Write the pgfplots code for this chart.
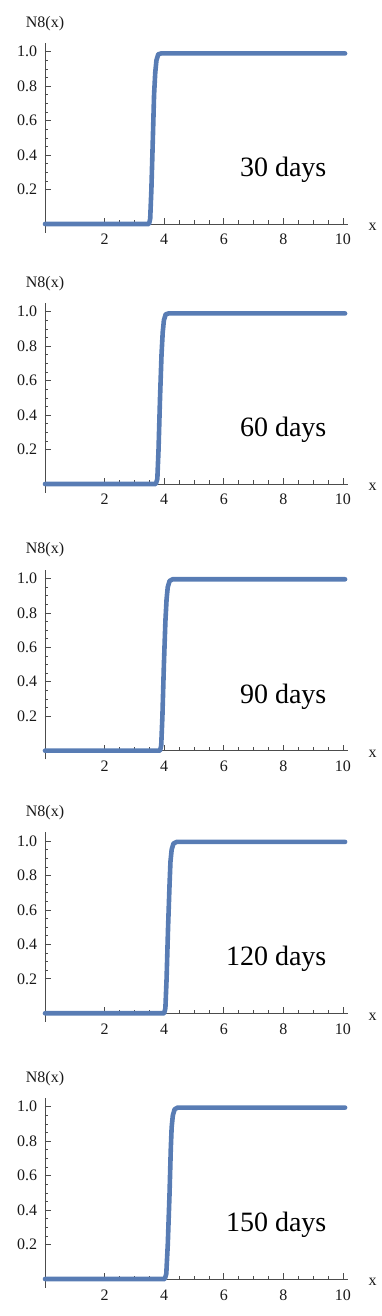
\documentclass[border=0pt]{standalone}
\usepackage{fontspec}
\setmainfont{Liberation Serif}
\usepackage{pgfplots}
\pgfplotsset{compat=1.18}

\definecolor{mmablue}{RGB}{88,124,180}

% one Mathematica-style panel: axes cross at the origin, ticks point inward
\pgfplotsset{
  npanel/.style={
    scale only axis,
    width=304.85pt, height=189.5pt,
    anchor=south west,
    xmin=-0.06, xmax=10.17,
    ymin=-0.05, ymax=1.05,
    axis lines=middle,
    axis line style={black!70, line width=0.8pt, -},
    tick align=inside,
    xtick={2,4,6,8,10},
    ytick={0.2,0.4,0.6,0.8,1.0},
    minor tick num=3,
    major tick length=6pt,
    minor tick length=3.5pt,
    major tick style={black!70, line width=0.7pt},
    minor tick style={black!70, line width=0.6pt},
    tick label style={font=\fontsize{16}{19}\selectfont, text=black!90},
    /pgf/number format/assume math mode=true,
    yticklabel style={anchor=east, inner sep=0pt, xshift=-7.7pt,
      /pgf/number format/fixed, /pgf/number format/fixed zerofill,
      /pgf/number format/precision=1},
    xticklabel style={anchor=base, inner sep=0pt, yshift=-21pt},
    clip=false,
  },
  curve/.style={color=mmablue, mark=none, line width=4.6pt,
    line join=round, line cap=round},
}

\newcommand{\panellabels}[1]{%
  \node[anchor=base, font=\fontsize{16}{19}\selectfont, text=black!90]
    at (axis cs:0,1.05) [yshift=16pt] {N8(x)};
  \node[anchor=base west, font=\fontsize{16}{19}\selectfont, text=black!90]
    at (axis cs:10.74,-0.039) {x};
  \node[anchor=base east, font=\fontsize{28}{32}\selectfont]
    at (axis cs:9.56,0.275) {#1};
}

\begin{document}
\begin{tikzpicture}
\path[use as bounding box] (0,0) rectangle (382pt,-1316pt);

\begin{axis}[npanel, at={(43.21pt,-232.6pt)}]
\addplot[curve] coordinates {
(0,0) (3.49,0) (3.53,0.03) (3.57,0.2) (3.62,0.5) (3.66,0.75) (3.70,0.88)
(3.74,0.95) (3.80,0.985) (3.90,0.99) (10.07,0.99)
};
\panellabels{30 days}
\end{axis}

\begin{axis}[npanel, at={(43.21pt,-492.6pt)}]
\addplot[curve] coordinates {
(0,0) (3.72,0) (3.77,0.03) (3.81,0.2) (3.86,0.5) (3.91,0.75) (3.95,0.88)
(3.99,0.95) (4.05,0.985) (4.15,0.99) (10.07,0.99)
};
\panellabels{60 days}
\end{axis}

\begin{axis}[npanel, at={(43.21pt,-759.3pt)}]
\addplot[curve] coordinates {
(0,0) (3.86,0) (3.90,0.03) (3.94,0.2) (3.99,0.5) (4.04,0.75) (4.08,0.88)
(4.12,0.95) (4.18,0.985) (4.28,0.995) (10.07,0.995)
};
\panellabels{90 days}
\end{axis}

\begin{axis}[npanel, at={(43.21pt,-1021.9pt)}]
\addplot[curve] coordinates {
(0,0) (4.00,0) (4.04,0.03) (4.08,0.2) (4.13,0.5) (4.18,0.75) (4.21,0.88)
(4.25,0.95) (4.31,0.985) (4.42,0.995) (10.07,0.995)
};
\panellabels{120 days}
\end{axis}

\begin{axis}[npanel, at={(43.21pt,-1287.6pt)}]
\addplot[curve] coordinates {
(0,0) (4.02,0) (4.07,0.03) (4.12,0.2) (4.18,0.5) (4.22,0.75) (4.25,0.88)
(4.29,0.95) (4.35,0.985) (4.45,0.995) (10.07,0.995)
};
\panellabels{150 days}
\end{axis}

\end{tikzpicture}
\end{document}
